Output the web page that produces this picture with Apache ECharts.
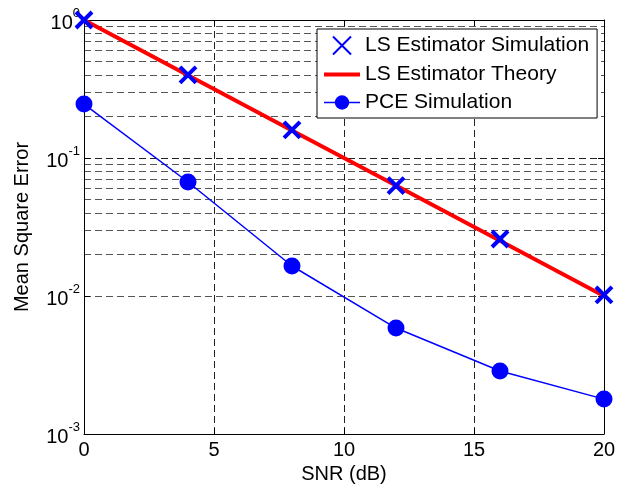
<!DOCTYPE html>
<html>
<head>
<meta charset="utf-8">
<script src="https://cdn.jsdelivr.net/npm/echarts@6/dist/echarts.min.js"></script>
<style>html,body{margin:0;padding:0;background:#fff}#c{width:630px;height:486px}</style>
</head>
<body>
<div id="c"></div>
<script>
const snr = [0, 4, 8, 12, 16, 20];
const lsSim = [1.0, 0.40, 0.16, 0.063, 0.0259, 0.0102];
const lsTheory = [1.0, 0.398, 0.158, 0.0631, 0.0251, 0.01];
const pceSim = [0.246, 0.067, 0.0165, 0.00586, 0.00286, 0.00179];
const minorGrid = [0.002,0.003,0.004,0.005,0.006,0.007,0.008,0.009,
                   0.02,0.03,0.04,0.05,0.06,0.07,0.08,0.09,
                   0.2,0.3,0.4,0.5,0.6,0.7,0.8,0.9];
const xTicks = [0, 5, 10, 15, 20];
const yDecades = [0.001, 0.01, 0.1, 1];

const font = 'Liberation Sans, Arial, Helvetica, sans-serif';
const chart = echarts.init(document.getElementById('c'));
const pair = (ys) => snr.map((x, i) => [x, ys[i]]);
const expOf = (v) => Math.round(Math.log10(v));

chart.setOption({
  animation: false,
  backgroundColor: '#fff',
  textStyle: { fontFamily: font },
  grid: { left: 84, right: 26, top: 20, bottom: 52, show: false, containLabel: false, outerBoundsMode: 'none' },
  legend: {
    left: 317, top: 29, z: 20, zlevel: 0,
    orient: 'vertical',
    backgroundColor: '#fff',
    borderColor: '#000', borderWidth: 1,
    padding: [5, 8, 5, 5],
    itemGap: 7,
    itemWidth: 36, itemHeight: 18,
    textStyle: { fontFamily: font, fontSize: 21, color: '#000' },
    data: [
      { name: 'LS Estimator Simulation' },
      { name: 'LS Estimator Theory', itemStyle: { opacity: 0 }, lineStyle: { width: 4, color: '#ff0000' } },
      { name: 'PCE Simulation', lineStyle: { width: 1.5, color: '#0000ff' } }
    ]
  },
  xAxis: [{
    type: 'value', min: 0, max: 20, interval: 5,
    name: 'SNR (dB)', nameLocation: 'middle', nameGap: 27,
    nameTextStyle: { fontFamily: font, fontSize: 20, color: '#000' },
    axisLine: { show: true, onZero: false, lineStyle: { color: '#000', width: 1 } },
    axisTick: { show: true, inside: true, length: 6, lineStyle: { color: '#000' } },
    axisLabel: { fontFamily: font, fontSize: 20, color: '#000', margin: 6 },
    splitLine: { show: true, lineStyle: { color: '#222', type: [7, 4], width: 1 } }
  }, {
    type: 'value', min: 0, max: 20, interval: 5, position: 'top',
    axisLine: { show: true, onZero: false, lineStyle: { color: '#000', width: 1 } },
    axisTick: { show: true, inside: true, length: 6, lineStyle: { color: '#000' } },
    axisLabel: { show: false }, splitLine: { show: false }
  }],
  yAxis: [{
    type: 'log', logBase: 10, min: 0.001, max: 1,
    name: 'Mean Square Error', nameLocation: 'middle', nameGap: 52,
    nameTextStyle: { fontFamily: font, fontSize: 20, color: '#000' },
    axisLine: { show: true, onZero: false, lineStyle: { color: '#000', width: 1 } },
    axisTick: { show: true, inside: true, length: 6, lineStyle: { color: '#000' } },
    axisLabel: {
      fontFamily: font, color: '#000', margin: 4,
      formatter: (v) => '{a|10}{b|' + expOf(v) + '}',
      rich: {
        a: { fontFamily: font, fontSize: 20, color: '#000', lineHeight: 26, verticalAlign: 'bottom' },
        b: { fontFamily: font, fontSize: 13, color: '#000', lineHeight: 26, verticalAlign: 'top' }
      }
    },
    splitLine: { show: true, lineStyle: { color: '#222', type: [7, 4], width: 1 } }
  }, {
    type: 'log', logBase: 10, min: 0.001, max: 1, position: 'right',
    axisLine: { show: true, onZero: false, lineStyle: { color: '#000', width: 1 } },
    axisTick: { show: true, inside: true, length: 6, lineStyle: { color: '#000' } },
    axisLabel: { show: false }, splitLine: { show: false }
  }],
  series: [{
    name: 'grid-minor', type: 'line', data: [], silent: true, z: 0,
    markLine: {
      silent: true, symbol: 'none', animation: false, z: 0,
      label: { show: false },
      lineStyle: { color: '#555', type: [7, 4], width: 1 },
      data: minorGrid.map(v => ({ yAxis: v }))
    }
  }, {
    name: 'LS Estimator Theory', type: 'line', data: pair(lsTheory),
    showSymbol: false, symbol: 'none',
    lineStyle: { color: '#ff0000', width: 4 },
    itemStyle: { color: '#ff0000' }, z: 3
  }, {
    name: 'PCE Simulation', type: 'line', data: pair(pceSim),
    symbol: 'circle', symbolSize: 17,
    lineStyle: { color: '#0000ff', width: 1.5 },
    itemStyle: { color: '#0000ff' }, z: 4
  }, {
    name: 'LS Estimator Simulation', type: 'scatter', data: pair(lsSim),
    symbol: 'path://M0,0L20,20M20,0L0,20', symbolSize: 16,
    itemStyle: { color: 'none', borderColor: '#0000ff', borderWidth: 4, opacity: 1 }, z: 5
  }]
});
</script>
</body>
</html>
